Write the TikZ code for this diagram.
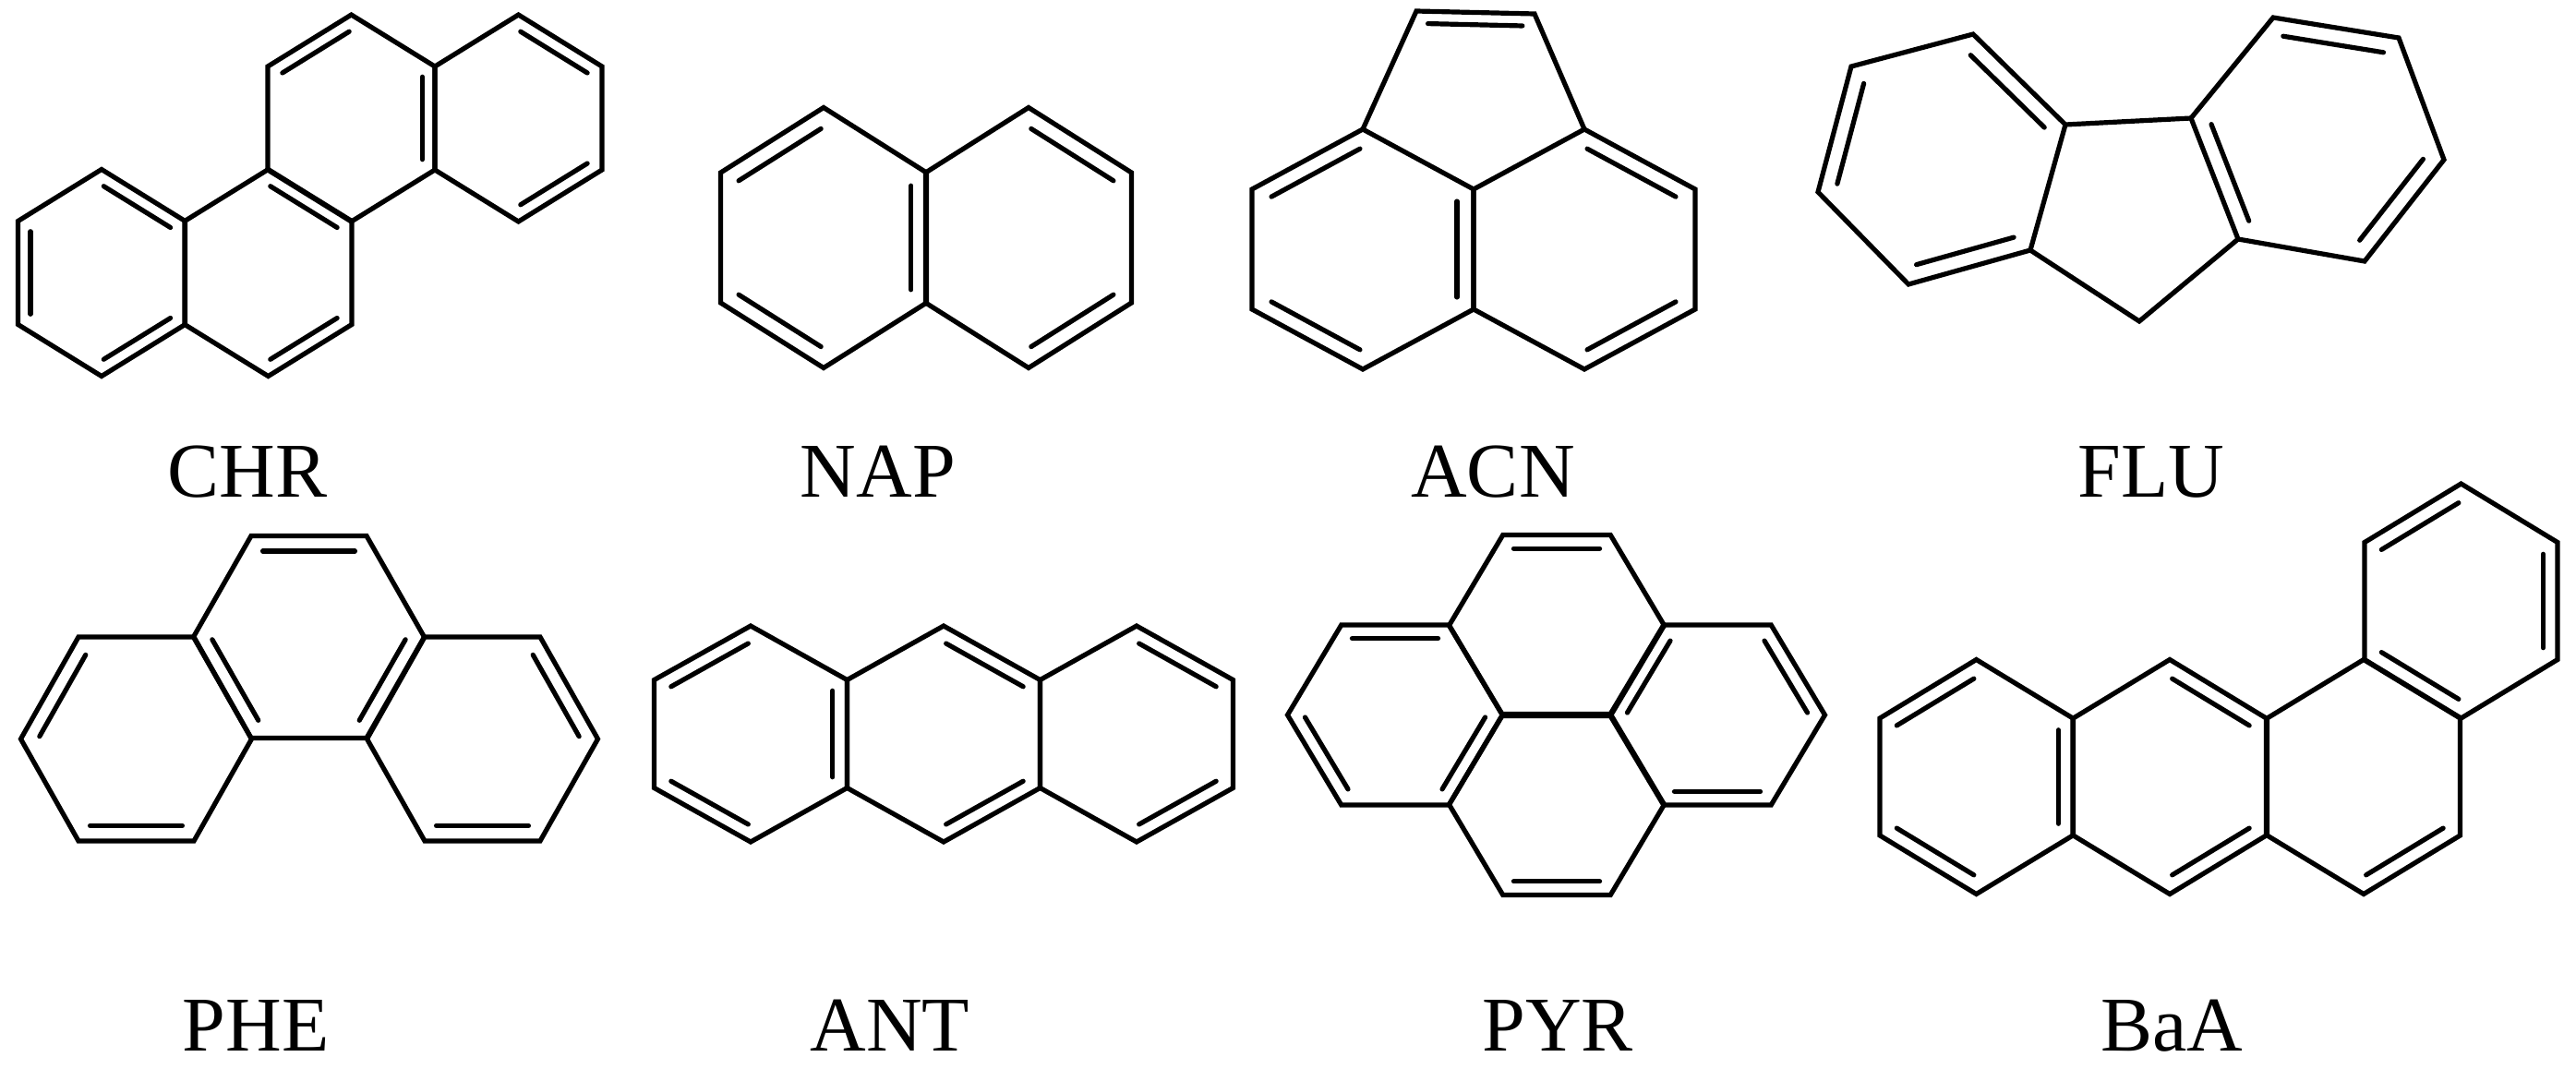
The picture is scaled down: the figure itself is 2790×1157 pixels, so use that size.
\documentclass[tikz,border=0pt]{standalone}
\usepackage{fontspec}
\setmainfont{Liberation Serif}
\usetikzlibrary{calc}
\tikzset{bond/.style={line width=5.2pt,line join=miter,line cap=round},
  lab/.style={anchor=base,inner sep=0pt,font=\fontsize{84}{90}\selectfont}}
\newcommand\dbl[3]{\draw[bond] ($(#1)!0.85!($(#2)!0.03!(#3)$)$) -- ($(#1)!0.85!($(#3)!0.03!(#2)$)$);}
% pointy-top hexagon: cx cy halfwidth L edges
\newcommand\phex[5]{%
 \coordinate (hc) at (#1,#2);
 \coordinate (v0) at (#1,#2-#4);
 \coordinate (v1) at (#1-#3,#2-#4/2);
 \coordinate (v2) at (#1-#3,#2+#4/2);
 \coordinate (v3) at (#1,#2+#4);
 \coordinate (v4) at (#1+#3,#2+#4/2);
 \coordinate (v5) at (#1+#3,#2-#4/2);
 \draw[bond] (v0)--(v1)--(v2)--(v3)--(v4)--(v5)--cycle;
 \foreach \e in {#5}{\pgfmathtruncatemacro\f{mod(\e+1,6)}\dbl{hc}{v\e}{v\f}}}
% flat-top hexagon: cx cy rx ry edges
\newcommand\fhex[5]{%
 \coordinate (hc) at (#1,#2);
 \coordinate (v0) at (#1+#3,#2);
 \coordinate (v1) at (#1+#3/2,#2-#4);
 \coordinate (v2) at (#1-#3/2,#2-#4);
 \coordinate (v3) at (#1-#3,#2);
 \coordinate (v4) at (#1-#3/2,#2+#4);
 \coordinate (v5) at (#1+#3/2,#2+#4);
 \draw[bond] (v0)--(v1)--(v2)--(v3)--(v4)--(v5)--cycle;
 \foreach \e in {#5}{\pgfmathtruncatemacro\f{mod(\e+1,6)}\dbl{hc}{v\e}{v\f}}}
\begin{document}
\begin{tikzpicture}[x=1pt,y=-1pt]
\useasboundingbox (0,0) rectangle (2790,1157);
% CHR
\phex{110}{295.5}{90.5}{112}{1,3,5}
\phex{290.5}{295.5}{90.5}{112}{3,5}
\phex{380.5}{128}{90.5}{112}{0,4}
\phex{561.5}{128}{90.5}{112}{3,5}
% NAP
\phex{892}{257.5}{111.5}{141}{0,2,4}
\phex{1114}{257.5}{111.5}{141}{3,5}
% ACN
\phex{1476}{270}{120}{130}{0,2,4}
\phex{1716}{270}{120}{130}{3,5}
\coordinate (a1) at (1476,140); \coordinate (a2) at (1534,12);
\coordinate (a3) at (1662,15); \coordinate (a4) at (1716,140);
\coordinate (a5) at (1596,102);
\draw[bond] (a1)--(a2)--(a3)--(a4);
\dbl{a5}{a2}{a3}
% FLU
\coordinate (l1) at (2137,37); \coordinate (l2) at (2005,72);
\coordinate (l3) at (1969,208); \coordinate (l4) at (2067,308);
\coordinate (l5) at (2199,271); \coordinate (l6) at (2237,135);
\coordinate (r1) at (2373,128); \coordinate (r2) at (2462,19);
\coordinate (r3) at (2598,41); \coordinate (r4) at (2647,173);
\coordinate (r5) at (2561,283); \coordinate (r6) at (2424,259);
\coordinate (m) at (2317,348);
\coordinate (lc) at (2102,172); \coordinate (rc) at (2511,150);
\draw[bond] (l1)--(l2)--(l3)--(l4)--(l5)--(l6)--cycle;
\draw[bond] (r1)--(r2)--(r3)--(r4)--(r5)--(r6)--cycle;
\draw[bond] (l6)--(r1) (l5)--(m)--(r6);
\dbl{lc}{l1}{l6} \dbl{lc}{l2}{l3} \dbl{lc}{l4}{l5}
\dbl{rc}{r2}{r3} \dbl{rc}{r4}{r5} \dbl{rc}{r1}{r6}
% PHE
\fhex{147.5}{800.5}{125}{110.5}{2,4}
\fhex{334.5}{690}{125}{109.5}{1,3,5}
\fhex{522.5}{800.5}{125}{110.5}{0,4}
% ANT
\phex{813}{795}{104.5}{117}{0,2,4}
\phex{1022}{795}{104.5}{117}{3,5}
\phex{1231}{795}{104.5}{117}{3,5}
% PYR
\fhex{1511}{774.5}{116.5}{97.5}{1,3,5}
\fhex{1686}{677.5}{116.5}{98}{1}
\fhex{1860}{774.5}{116.5}{97.5}{0,2,4}
\fhex{1686}{871.5}{116.5}{98}{4}
% BaA
\phex{2140.5}{841.5}{104.5}{127}{0,2,4}
\phex{2350}{841.5}{104.5}{127}{3,5}
\phex{2560}{841.5}{104.5}{127}{3}
\phex{2665.5}{651}{104.5}{127}{0,2,4}
% labels
\node[lab] (tchr) at (268,538) {CHR};
\node[lab] (tnap) at (951,538) {NAP};
\node[lab] (tacn) at (1617,538) {ACN};
\node[lab] (tflu) at (2330,538) {FLU};
\node[lab] (tphe) at (277,1138) {PHE};
\node[lab] (tant) at (964,1138) {ANT};
\node[lab] (tpyr) at (1687,1138) {PYR};
\node[lab] (tbaa) at (2352,1138) {BaA};
\end{tikzpicture}
\end{document}
